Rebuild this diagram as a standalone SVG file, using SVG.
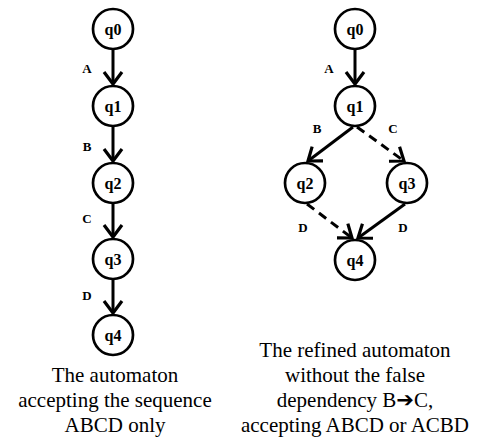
<svg xmlns="http://www.w3.org/2000/svg" width="477" height="441" viewBox="0 0 477 441">
<style>
.node circle{fill:#fff;stroke:#000;stroke-width:2.7}
.edge{stroke:#000;stroke-width:3;fill:none}
.dash{stroke-dasharray:9,6}
</style>
<defs>
<marker id="arr" markerUnits="userSpaceOnUse" viewBox="-16 -12 20 24" refX="0" refY="0" markerWidth="20" markerHeight="24" orient="auto">
<path d="M-12,-9 L0,0 L-12,9" fill="none" stroke="#000" stroke-width="3.2"/>
</marker>
</defs>
<g id="connectors">
<line class="edge" x1="113" y1="50" x2="113" y2="84" marker-end="url(#arr)"/>
<line class="edge" x1="113" y1="127" x2="113" y2="161" marker-end="url(#arr)"/>
<line class="edge" x1="113" y1="204" x2="113" y2="237" marker-end="url(#arr)"/>
<line class="edge" x1="113" y1="280" x2="113" y2="313" marker-end="url(#arr)"/>
<line class="edge" x1="355" y1="50" x2="355" y2="84" marker-end="url(#arr)"/>
<line class="edge" x1="353" y1="127" x2="308" y2="161" marker-end="url(#arr)"/>
<line class="edge dash" x1="357" y1="127" x2="404" y2="161" marker-end="url(#arr)"/>
<line class="edge dash" x1="307" y1="204" x2="352" y2="238" marker-end="url(#arr)"/>
<line class="edge" x1="405" y1="204" x2="358" y2="238" marker-end="url(#arr)"/>
</g>
<g id="edge-labels" font-family="Times New Roman, Liberation Serif, DejaVu Serif, serif" font-weight="bold" font-size="13" text-anchor="middle">
<text x="87" y="73">A</text>
<text x="87" y="151">B</text>
<text x="87" y="223">C</text>
<text x="87" y="300">D</text>
<text x="329" y="73">A</text>
<text x="317" y="133">B</text>
<text x="393" y="133">C</text>
<text x="303" y="232">D</text>
<text x="403" y="232">D</text>
</g>
<g font-family="Times New Roman, Liberation Serif, DejaVu Serif, serif" font-weight="bold" font-size="16" text-anchor="middle">
<g id="L-q0" class="node"><circle cx="113" cy="29" r="20"/><text x="113" y="34.5">q0</text></g>
<g id="L-q1" class="node"><circle cx="113" cy="106" r="20"/><text x="113" y="111.5">q1</text></g>
<g id="L-q2" class="node"><circle cx="113" cy="183" r="20"/><text x="113" y="188.5">q2</text></g>
<g id="L-q3" class="node"><circle cx="113" cy="259" r="20"/><text x="113" y="264.5">q3</text></g>
<g id="L-q4" class="node"><circle cx="113" cy="335" r="20"/><text x="113" y="340.5">q4</text></g>
<g id="R-q0" class="node"><circle cx="355" cy="29" r="20"/><text x="355" y="34.5">q0</text></g>
<g id="R-q1" class="node"><circle cx="355" cy="106" r="20"/><text x="355" y="111.5">q1</text></g>
<g id="R-q2" class="node"><circle cx="305" cy="183" r="20"/><text x="305" y="188.5">q2</text></g>
<g id="R-q3" class="node"><circle cx="407" cy="183" r="20"/><text x="407" y="188.5">q3</text></g>
<g id="R-q4" class="node"><circle cx="355" cy="260" r="20"/><text x="355" y="265.5">q4</text></g>
</g>
<g id="captions" font-family="Times New Roman, Liberation Serif, DejaVu Serif, serif" font-size="21" text-anchor="middle">
<text x="115" y="382">The automaton</text>
<text x="115" y="407">accepting the sequence</text>
<text x="115" y="432">ABCD only</text>
<text x="355" y="357">The refined automaton</text>
<text x="355" y="382">without the false</text>
<text x="355" y="407">dependency B<tspan font-family="DejaVu Sans, sans-serif">➔</tspan>C,</text>
<text x="355" y="432">accepting ABCD or ACBD</text>
</g>
</svg>
